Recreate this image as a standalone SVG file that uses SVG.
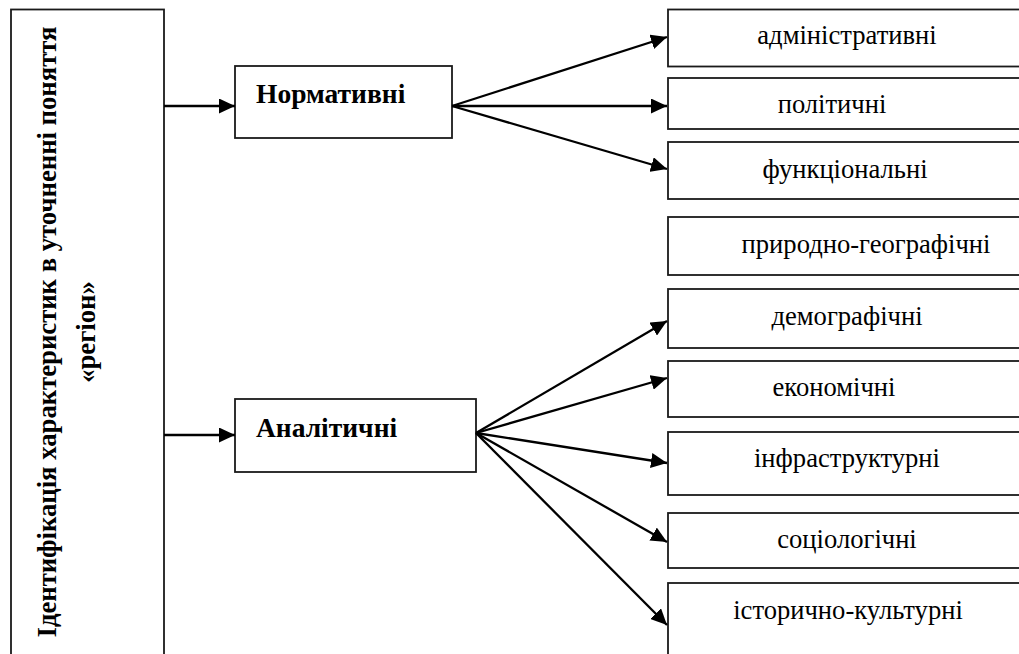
<svg xmlns="http://www.w3.org/2000/svg" width="1019" height="654" viewBox="0 0 1019 654">
<defs>
<marker id="ah" markerUnits="userSpaceOnUse" markerWidth="17" markerHeight="15" refX="16" refY="7.5" orient="auto">
<path d="M0,0 L16,7.5 L0,15 z" fill="#000"/>
</marker>
<style>
.box{fill:#fff;stroke:#1a1a1a;stroke-width:1.8}
.lbl{font-family:'Liberation Serif','Times New Roman','DejaVu Serif',serif;font-size:26.6px;fill:#000}
.b{font-weight:bold}
.c{text-anchor:middle}
.con line{stroke:#000;stroke-width:2.3;marker-end:url(#ah)}
</style>
</defs>
<rect width="1019" height="654" fill="#fff"/>
<g id="root">
<rect class="box" x="11" y="9.5" width="153" height="660"/>
<text class="lbl b c" transform="rotate(-90)" x="-332" y="56" style="font-size:26.7px">Ідентифікація характеристик в уточненні поняття</text>
<text class="lbl b c" transform="rotate(-90)" x="-332" y="95" style="font-size:26.7px">«регіон»</text>
</g>
<g id="normative">
<rect class="box" x="235" y="66" width="217" height="72"/>
<text class="lbl b" x="256" y="103" style="font-size:27.5px">Нормативні</text>
</g>
<g id="analytic">
<rect class="box" x="235" y="399" width="241" height="73"/>
<text class="lbl b" x="256" y="437" style="font-size:27.5px">Аналітичні</text>
</g>
<g id="n1"><rect class="box" x="668" y="9.5" width="360" height="57"/><text class="lbl c" x="847" y="44">адміністративні</text></g>
<g id="n2"><rect class="box" x="668" y="78" width="360" height="51"/><text class="lbl c" x="832" y="113">політичні</text></g>
<g id="n3"><rect class="box" x="668" y="142" width="360" height="57"/><text class="lbl c" x="845" y="178">функціональні</text></g>
<g id="n4"><rect class="box" x="668" y="217" width="360" height="58"/><text class="lbl c" x="866" y="253">природно-географічні</text></g>
<g id="n5"><rect class="box" x="668" y="289" width="360" height="59"/><text class="lbl c" x="847" y="325">демографічні</text></g>
<g id="n6"><rect class="box" x="668" y="361" width="360" height="56"/><text class="lbl c" x="834" y="396">економічні</text></g>
<g id="n7"><rect class="box" x="668" y="432" width="360" height="63"/><text class="lbl c" x="847" y="467">інфраструктурні</text></g>
<g id="n8"><rect class="box" x="668" y="513" width="360" height="55"/><text class="lbl c" x="847" y="548">соціологічні</text></g>
<g id="n9"><rect class="box" x="668" y="583" width="360" height="90"/><text class="lbl c" x="848" y="619">історично-культурні</text></g>
<g id="connectors" class="con">
<line x1="164" y1="106" x2="235" y2="106"/>
<line x1="164" y1="435" x2="235" y2="435"/>
<line x1="452" y1="106" x2="667" y2="37"/>
<line x1="452" y1="106" x2="667" y2="106"/>
<line x1="452" y1="106" x2="667" y2="169"/>
<line x1="476" y1="433" x2="667" y2="321"/>
<line x1="476" y1="433" x2="667" y2="378"/>
<line x1="476" y1="433" x2="667" y2="463"/>
<line x1="476" y1="433" x2="667" y2="542"/>
<line x1="476" y1="433" x2="667" y2="625"/>
</g>
</svg>
